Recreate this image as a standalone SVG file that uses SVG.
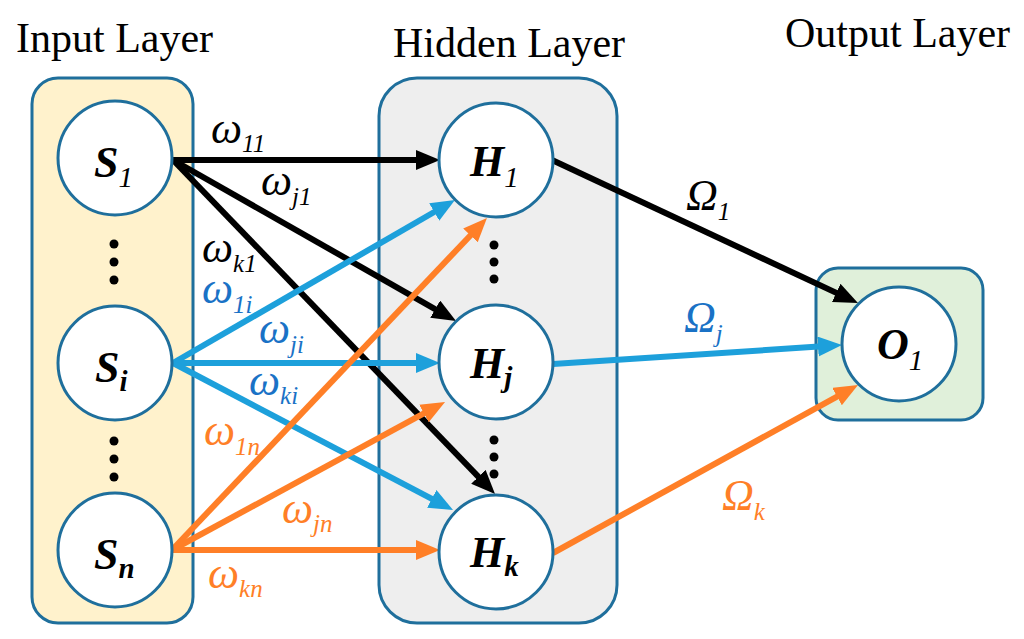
<svg xmlns="http://www.w3.org/2000/svg" width="1024" height="639" viewBox="0 0 1024 639">
<style>
.title{font-family:"Liberation Serif","DejaVu Serif",serif;font-size:42px;fill:#000}
.box{stroke:#1F6F9C;stroke-width:3}
.node{fill:#fff;stroke:#1F6F9C;stroke-width:3}
.nl{font-family:"Liberation Serif","DejaVu Serif",serif;font-size:44px;font-weight:bold;font-style:italic;fill:#000}
.sub{font-size:29px}
.subn{font-size:29px;font-weight:normal}
.w{font-family:"Liberation Serif","DejaVu Serif",serif;font-size:44px;font-style:italic}
.ws{font-size:25px}
.k{stroke:#000;stroke-width:6;fill:none}
.b{stroke:#1DA0DB;stroke-width:6;fill:none}
.o{stroke:#FF7F27;stroke-width:6;fill:none}
.tk{fill:#000}
.tb{fill:#1A72C6}
.to{fill:#FF7F27}
</style>
<defs>
<marker id="ak" markerUnits="userSpaceOnUse" markerWidth="26" markerHeight="22" refX="12" refY="10" orient="auto"><path d="M0,0 L24,10 L0,20 Z" fill="#000"/></marker>
<marker id="ab" markerUnits="userSpaceOnUse" markerWidth="26" markerHeight="22" refX="12" refY="10" orient="auto"><path d="M0,0 L24,10 L0,20 Z" fill="#1DA0DB"/></marker>
<marker id="ao" markerUnits="userSpaceOnUse" markerWidth="26" markerHeight="22" refX="12" refY="10" orient="auto"><path d="M0,0 L24,10 L0,20 Z" fill="#FF7F27"/></marker>
</defs>
<rect width="1024" height="639" fill="#fff"/>
<text class="title" x="16" y="52">Input Layer</text>
<text class="title" x="393" y="57">Hidden Layer</text>
<text class="title" x="785" y="47">Output Layer</text>

<g id="input-layer">
<rect class="box" x="32" y="78" width="161" height="545" rx="26" fill="#FFF2CC"/>
<g fill="#000"><circle cx="114" cy="244" r="4.5"/><circle cx="114" cy="262" r="4.5"/><circle cx="114" cy="280" r="4.5"/><circle cx="114" cy="441" r="4.5"/><circle cx="114" cy="459" r="4.5"/><circle cx="114" cy="477" r="4.5"/></g>
</g>
<g id="hidden-layer">
<rect class="box" x="379" y="78" width="238" height="545" rx="38" fill="#EEEEEE"/>
<g fill="#000"><circle cx="494" cy="245" r="4.5"/><circle cx="494" cy="262" r="4.5"/><circle cx="494" cy="279" r="4.5"/><circle cx="494" cy="440" r="4.5"/><circle cx="494" cy="457" r="4.5"/><circle cx="494" cy="474" r="4.5"/></g>
</g>
<g id="output-layer">
<rect class="box" x="816" y="268" width="167" height="152" rx="22" fill="#E0F0DA"/>
</g>

<g id="connectors">
<line class="k" x1="173" y1="160" x2="428" y2="160" marker-end="url(#ak)"/>
<line class="k" x1="173" y1="160" x2="445.6" y2="315.1" marker-end="url(#ak)"/>
<line class="k" x1="173" y1="160" x2="486.7" y2="485.4" marker-end="url(#ak)"/>
<line class="b" x1="173" y1="363" x2="444.6" y2="206" marker-end="url(#ab)"/>
<line class="b" x1="173" y1="363" x2="428" y2="363" marker-end="url(#ab)"/>
<line class="b" x1="173" y1="363" x2="442.4" y2="504.4" marker-end="url(#ab)"/>
<line class="o" x1="172" y1="550" x2="478.7" y2="226.7" marker-end="url(#ao)"/>
<line class="o" x1="172" y1="550" x2="434.5" y2="407.7" marker-end="url(#ao)"/>
<line class="o" x1="172" y1="550" x2="428" y2="550" marker-end="url(#ao)"/>
<line class="k" x1="552" y1="160" x2="847.1" y2="297.9" marker-end="url(#ak)"/>
<line class="b" x1="553" y1="364" x2="830" y2="345.8" marker-end="url(#ab)"/>
<line class="o" x1="553" y1="553" x2="847.5" y2="390.8" marker-end="url(#ao)"/>
<text class="w tk" x="211" y="143">ω<tspan class="ws" dy="9">11</tspan></text>
<text class="w tk" x="261" y="195">ω<tspan class="ws" dy="10">j1</tspan></text>
<text class="w tk" x="202" y="262">ω<tspan class="ws" dy="10">k1</tspan></text>
<text class="w tb" x="202" y="303">ω<tspan class="ws" dy="10">1i</tspan></text>
<text class="w tb" x="259" y="343">ω<tspan class="ws" dy="10">ji</tspan></text>
<text class="w tb" x="249" y="395">ω<tspan class="ws" dy="9">ki</tspan></text>
<text class="w to" x="204" y="445">ω<tspan class="ws" dy="10">1n</tspan></text>
<text class="w to" x="282" y="523">ω<tspan class="ws" dy="9">jn</tspan></text>
<text class="w to" x="208" y="588">ω<tspan class="ws" dy="9">kn</tspan></text>
<text class="w tk" x="686" y="210">Ω<tspan class="ws" dy="10">1</tspan></text>
<text class="w tb" x="684" y="332">Ω<tspan class="ws" dy="10">j</tspan></text>
<text class="w to" x="722" y="510">Ω<tspan class="ws" dy="10">k</tspan></text>
</g>

<g id="S1"><circle class="node" cx="115" cy="158" r="57"/><text class="nl" x="94" y="177">S<tspan class="subn" dy="10">1</tspan></text></g>
<g id="Si"><circle class="node" cx="115" cy="363" r="57"/><text class="nl" x="95" y="382">S<tspan class="sub" dy="9">i</tspan></text></g>
<g id="Sn"><circle class="node" cx="115" cy="550" r="57"/><text class="nl" x="94" y="569">S<tspan class="sub" dy="9">n</tspan></text></g>
<g id="H1"><circle class="node" cx="496" cy="160" r="57"/><text class="nl" x="470" y="176">H<tspan class="subn" dy="11">1</tspan></text></g>
<g id="Hj"><circle class="node" cx="496" cy="362" r="57"/><text class="nl" x="470" y="378">H<tspan class="sub" dy="9">j</tspan></text></g>
<g id="Hk"><circle class="node" cx="496" cy="552" r="57"/><text class="nl" x="470" y="567">H<tspan class="sub" dy="9">k</tspan></text></g>
<g id="O1"><circle class="node" cx="899" cy="344" r="57"/><text class="nl" x="877" y="359">O<tspan class="subn" dy="11">1</tspan></text></g>
</svg>
